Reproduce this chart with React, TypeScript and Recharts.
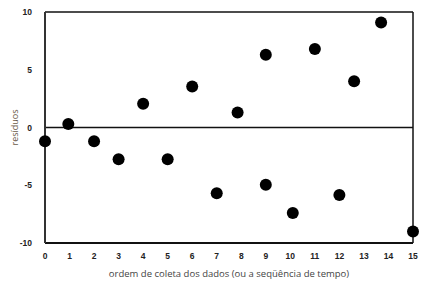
import React from 'react';
import { ScatterChart, Scatter, XAxis, YAxis, ReferenceLine } from 'recharts';

// ordem de coleta (x) e resíduos (y)
const ordem = [0, 0.95, 2, 3, 4, 5, 6, 7, 7.85, 9, 9, 10.1, 11, 12, 12.6, 13.7, 15];
const residuos = [-1.2, 0.3, -1.2, -2.75, 2.05, -2.75, 3.55, -5.7, 1.3, -4.95, 6.3, -7.4, 6.8, -5.85, 4.0, 9.1, -9.0];

const xTicks = [0, 1, 2, 3, 4, 5, 6, 7, 8, 9, 10, 11, 12, 13, 14, 15];
const yTicks = [-10, -5, 0, 5, 10];

const points = ordem.map((x, i) => ({ x, y: residuos[i] }));

const tickStyle = { fontSize: 8.5, fontWeight: 700, fill: '#222', fontFamily: 'Liberation Sans, Arial, sans-serif' };

export default function App() {
  return (
    <div style={{ position: 'absolute', left: 0, top: 0, width: 433, height: 285, background: '#fff' }}>
      <ScatterChart width={433} height={285} margin={{ top: 12, right: 20, bottom: 0, left: 1 }}>
        <XAxis
          type="number"
          dataKey="x"
          domain={[0, 15]}
          ticks={xTicks}
          interval={0}
          tick={tickStyle}
          tickLine={false}
          axisLine={{ stroke: '#111', strokeWidth: 2 }}
          tickMargin={4}
          height={42}
          label={{ value: 'ordem de coleta dos dados (ou a seqüência de tempo)', position: 'insideBottom', offset: 8, style: { fontSize: 9.5, fill: '#444', fontFamily: 'Open Sans, sans-serif' } }}
        />
        <YAxis
          type="number"
          dataKey="y"
          domain={[-10, 10]}
          ticks={yTicks}
          interval={0}
          tick={tickStyle}
          tickLine={false}
          axisLine={{ stroke: '#333', strokeWidth: 2 }}
          tickMargin={7}
          width={44}
          label={{ value: 'resíduos', angle: -90, position: 'insideLeft', offset: 14, style: { fontSize: 9, fill: '#6a5a48', fontFamily: 'Open Sans, sans-serif', textAnchor: 'middle' } }}
        />
        <ReferenceLine y={10} stroke="#111" strokeWidth={1.5} />
        <ReferenceLine x={15} stroke="#111" strokeWidth={1.5} />
        <ReferenceLine y={0} stroke="#111" strokeWidth={1.5} />
        <Scatter data={points} fill="#000" isAnimationActive={false} shape={(p: any) => <circle cx={p.cx} cy={p.cy} r={6} fill="#000" />} />
      </ScatterChart>
    </div>
  );
}
